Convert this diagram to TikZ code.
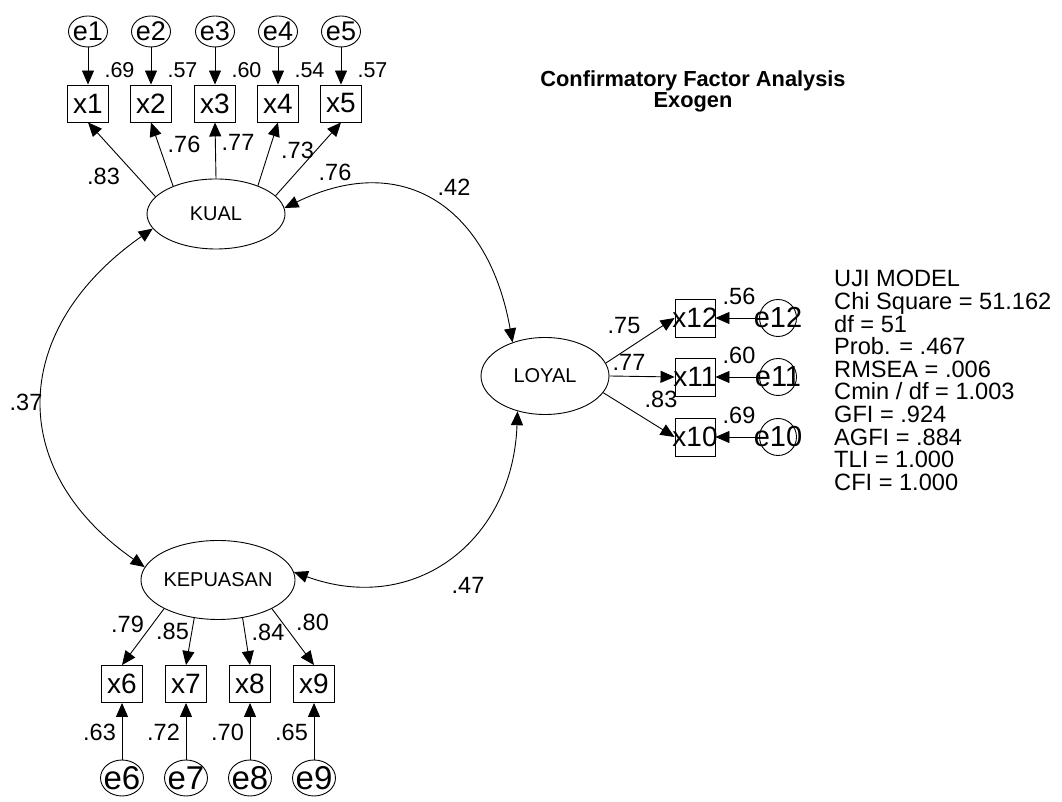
\documentclass[tikz,border=0pt]{standalone}
\usepackage{fontspec}
\setmainfont{Liberation Sans}
\usepackage{tikz}
\usetikzlibrary{
  arrows.meta,
  shapes.geometric
}
\colorlet{pathLine}{black}

\begin{document}
\begin{tikzpicture}[
  x=1pt, y=1pt,
  every node/.style={
    inner sep=0pt,
  },
  obsBox/.style={
    draw=pathLine,
    line width=0.9pt,
    minimum width=41pt,
    minimum height=37pt,
    font=\fontsize{28}{28}\selectfont,
  },
  errCircle/.style={
    draw=pathLine,
    line width=0.9pt,
    ellipse,
  },
  latent/.style={
    draw=pathLine,
    line width=0.9pt,
    ellipse,
    font=\fontsize{20}{20}\selectfont,
  },
  coef/.style={
    font=\fontsize{23.5}{23.5}\selectfont,
  },
  fitText/.style={
    font=\fontsize{23.6}{23.6}\selectfont,
  },
  regArrow/.style={
    draw=pathLine,
    line width=0.9pt,
    -{Triangle[length=14pt,width=12pt]},
  },
  covArrow/.style={
    draw=pathLine,
    line width=0.9pt,
    {Triangle[length=14pt,width=12pt]}-{Triangle[length=14pt,width=12pt]},
  }
]
\useasboundingbox (0,0) rectangle (1062,802);

% latent variables
\node[latent, minimum width=138pt, minimum height=70pt] (KUAL) at (216,588) {KUAL};
\node[latent, minimum width=128pt, minimum height=77pt] (LOYAL) at (545,426) {LOYAL};
\node[latent, minimum width=140pt, minimum height=79pt] (KEPUASAN) at (218,222) {KEPUASAN};

% KUAL indicators
\foreach \i/\x/\w in {1/88/.69, 2/151/.57, 3/215/.60, 4/278/.54, 5/341/.57} {
  \node[obsBox] (x\i) at (\x,698.5) {x\i};
  \node[errCircle, minimum width=39pt, minimum height=31pt,
    font=\fontsize{27}{27}\selectfont] (e\i) at (\x,770.5) {\makebox[0pt]{e\i}};
  \draw[regArrow] (e\i) -- (x\i);
  \node[coef, font=\fontsize{21.5}{21.5}\selectfont] (v\i) at (\x+31.5,732) {\w};
}
\foreach \i/\a/\lx/\ly/\v in {1/164/103.5/626/.83, 2/147/184/657.5/.76,
    3/90/238/659.5/.77, 4/34/297.5/651.5/.73, 5/17/335/629.5/.76} {
  \draw[regArrow] (KUAL.\a) -- (x\i.south);
  \node[coef] (l\i) at (\lx,\ly) {\v};
}

% KEPUASAN indicators
\foreach \i/\x/\a/\lx/\ly/\v/\w in {6/122/208/127.5/177.5/.79/.63,
    7/186/238/172.5/171/.85/.72, 8/250/303/268/169.5/.84/.70,
    9/314/332/312.5/179.5/.80/.65} {
  \node[obsBox] (x\i) at (\x,118) {x\i};
  \node[errCircle, minimum width=43pt, minimum height=36pt,
    font=\fontsize{33}{33}\selectfont] (e\i) at (\x,24) {\makebox[0pt]{e\i}};
  \draw[regArrow] (e\i) -- (x\i);
  \draw[regArrow] (KEPUASAN.\a) -- (x\i.north);
  \node[coef] (l\i) at (\lx,\ly) {\v};
  \node[coef] (v\i) at (\x-22.5,69.5) {\w};
}

% LOYAL indicators
\foreach \i/\y/\a/\lx/\ly/\v/\w in {12/484/12/624/476/.75/.56,
    11/425/0/629/440/.77/.60, 10/365/344/661/402.5/.83/.69} {
  \node[obsBox, minimum width=40pt, minimum height=38pt] (x\i) at (695,\y) {\makebox[0pt]{x\i}};
  \node[errCircle, minimum size=37pt,
    font=\fontsize{29}{29}\selectfont] (e\i) at (778,\y) {\makebox[0pt]{e\i}};
  \draw[regArrow] (e\i) -- (x\i);
  \draw[regArrow] (LOYAL.\a) -- (x\i.west);
  \node[coef] (l\i) at (\lx,\ly) {\v};
  \node[coef] (v\i) at (739,\y+21.5) {\w};
}

% correlations
\draw[covArrow] (KUAL.5) to[out=26, in=100, looseness=1.3] (LOYAL.134);
\node[coef] (cKL) at (454,615) {.42};
\draw[covArrow] (KUAL.193) to[out=215, in=145, looseness=1.3] (KEPUASAN.170);
\node[coef] (cKK) at (26,400) {.37};
\draw[covArrow] (LOYAL.232) to[out=268, in=340, looseness=1.2] (KEPUASAN.6);
\node[coef] (cLK) at (468,217) {.47};

% title and fit
\node[font=\bfseries\fontsize{21.8}{21.8}\selectfont, anchor=base] (title) at (693,715) {Confirmatory Factor Analysis};
\node[font=\bfseries\fontsize{21.8}{21.8}\selectfont, anchor=base] (subtitle) at (693,694) {Exogen};
\foreach \t [count=\k] in {UJI MODEL, Chi Square = 51.162, df = 51, Prob. = .467,
    RMSEA = .006, Cmin / df = 1.003, GFI = .924, AGFI = .884, TLI = 1.000, CFI = 1.000}
  \node[fitText, anchor=base west] (fit\k) at (834,{515-22.6*(\k-1)}) {\t};
\end{tikzpicture}
\end{document}
